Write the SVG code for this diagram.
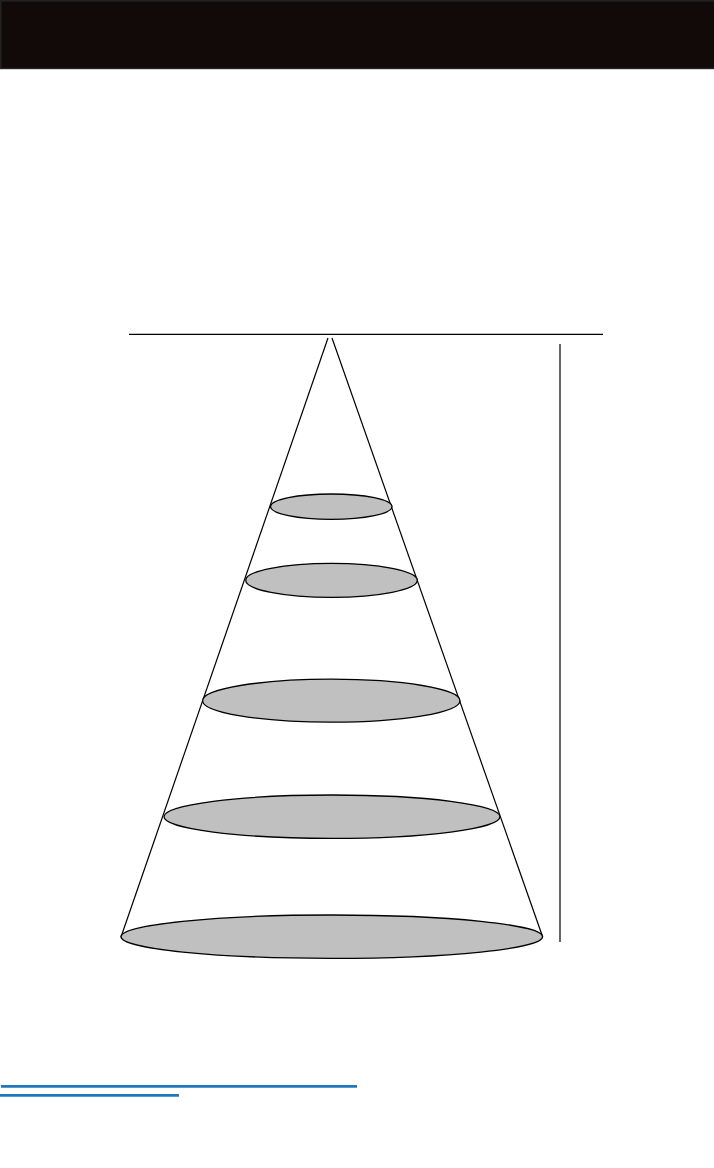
<svg xmlns="http://www.w3.org/2000/svg" width="714" height="1168" viewBox="0 0 714 1168">
<style>
.ln{stroke:#000;stroke-width:1.2;fill:none}
.disc{fill:#c0c0c0;stroke:#000;stroke-width:1.3}
.blue{stroke:#1f77be;stroke-width:2.8}
</style>
<rect width="714" height="1168" fill="#fff"/>
<g id="header">
<rect x="0.8" y="0.8" width="714" height="67.6" fill="#120909" stroke="#222" stroke-width="1.6"/>
</g>
<g id="axes">
<line class="ln" x1="129" y1="334.3" x2="603" y2="334.3"/>
<line class="ln" x1="560" y1="344" x2="560" y2="942"/>
</g>
<g id="connectors">
<line class="ln" x1="328" y1="338" x2="121" y2="937"/>
<line class="ln" x1="332" y1="338" x2="542.7" y2="937"/>
</g>
<g id="disc1"><ellipse class="disc" cx="331.3" cy="506.7" rx="60.7" ry="12.7"/></g>
<g id="disc2"><ellipse class="disc" cx="331.5" cy="580.3" rx="85.8" ry="17"/></g>
<g id="disc3"><ellipse class="disc" cx="331.3" cy="700.7" rx="128.7" ry="21.5"/></g>
<g id="disc4"><ellipse class="disc" cx="332" cy="816.7" rx="168" ry="21.7"/></g>
<g id="disc5"><ellipse class="disc" cx="331.8" cy="936.7" rx="210.8" ry="21.7"/></g>
<g id="links">
<line class="blue" x1="1" y1="1086.3" x2="357" y2="1086.3"/>
<line class="blue" x1="0" y1="1095.3" x2="179" y2="1095.3"/>
</g>
</svg>
